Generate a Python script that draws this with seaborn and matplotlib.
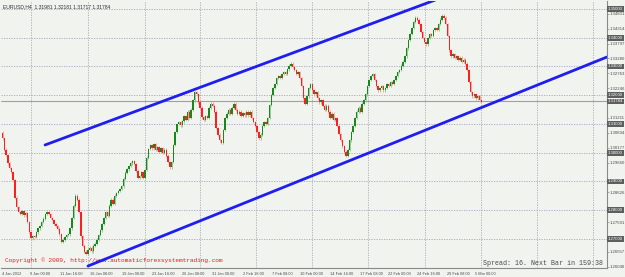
import matplotlib
matplotlib.use("Agg")
import matplotlib.pyplot as plt
import matplotlib.transforms as mtransforms
import numpy as np
import pandas as pd
import seaborn as sns

# ---------------- data ----------------
symbol_text = "EURUSD,H4  1.31981 1.32181 1.31717 1.31784"
first_bar = 2
first_open = 1.3070
closes = [
    1.3051, 1.3010, 1.2992, 1.2964, 1.2947, 1.2933, 1.2905, 1.2843, 1.2811, 1.2794,
    1.2787, 1.2797, 1.2783, 1.2790, 1.2759, 1.2724, 1.2703, 1.2710, 1.2707, 1.2724,
    1.2738, 1.2745, 1.2759, 1.2770, 1.2787, 1.2794, 1.2787, 1.2773, 1.2766, 1.2752,
    1.2745, 1.2735, 1.2717, 1.2690, 1.2697, 1.2707, 1.2714, 1.2717, 1.2738, 1.2773,
    1.2815, 1.2850, 1.2836, 1.2794, 1.2710, 1.2676, 1.2655, 1.2648, 1.2662, 1.2669,
    1.2658, 1.2676, 1.2683, 1.2697, 1.2714, 1.2731, 1.2752, 1.2773, 1.2794, 1.2780,
    1.2815, 1.2836, 1.2822, 1.2850, 1.2860, 1.2867, 1.2874, 1.2884, 1.2909, 1.2930,
    1.2943, 1.2954, 1.2964, 1.2971, 1.2961, 1.2937, 1.2912, 1.2919, 1.2933, 1.2912,
    1.2940, 1.2982, 1.3013, 1.3027, 1.3016, 1.3030, 1.3010, 1.3020, 1.3003, 1.3016,
    1.2999, 1.3010, 1.2989, 1.2968, 1.2950, 1.2968, 1.3027, 1.3072, 1.3100, 1.3107,
    1.3096, 1.3110, 1.3128, 1.3114, 1.3142, 1.3121, 1.3149, 1.3183, 1.3211, 1.3204,
    1.3176, 1.3156, 1.3124, 1.3114, 1.3128, 1.3121, 1.3156, 1.3170, 1.3163, 1.3142,
    1.3086, 1.3062, 1.3044, 1.3034, 1.3079, 1.3121, 1.3135, 1.3149, 1.3135, 1.3156,
    1.3170, 1.3149, 1.3135, 1.3142, 1.3128, 1.3138, 1.3131, 1.3142, 1.3131, 1.3142,
    1.3121, 1.3107, 1.3093, 1.3072, 1.3051, 1.3062, 1.3093, 1.3107, 1.3100, 1.3121,
    1.3166, 1.3201, 1.3225, 1.3239, 1.3260, 1.3267, 1.3260, 1.3274, 1.3281, 1.3274,
    1.3291, 1.3302, 1.3309, 1.3298, 1.3288, 1.3274, 1.3281, 1.3260, 1.3232, 1.3190,
    1.3170, 1.3197, 1.3225, 1.3239, 1.3218, 1.3204, 1.3211, 1.3190, 1.3176, 1.3183,
    1.3163, 1.3149, 1.3163, 1.3142, 1.3121, 1.3135, 1.3114, 1.3121, 1.3093, 1.3065,
    1.3044, 1.3023, 1.3003, 1.2989, 1.3010, 1.3044, 1.3072, 1.3093, 1.3121, 1.3142,
    1.3156, 1.3142, 1.3170, 1.3183, 1.3204, 1.3232, 1.3253, 1.3267, 1.3274, 1.3253,
    1.3232, 1.3218, 1.3225, 1.3232, 1.3218, 1.3225, 1.3239, 1.3232, 1.3246, 1.3239,
    1.3253, 1.3267, 1.3281, 1.3288, 1.3302, 1.3316, 1.3336, 1.3364, 1.3392, 1.3413,
    1.3434, 1.3455, 1.3469, 1.3462, 1.3448, 1.3420, 1.3399, 1.3385, 1.3378, 1.3399,
    1.3413, 1.3406, 1.3427, 1.3434, 1.3427, 1.3448, 1.3462, 1.3476, 1.3469, 1.3448,
    1.3406, 1.3357, 1.3336, 1.3343, 1.3330, 1.3336, 1.3323, 1.3330, 1.3316, 1.3323,
    1.3309, 1.3288, 1.3246, 1.3211, 1.3197, 1.3204, 1.3190, 1.3197, 1.3183, 1.3178,
]

x_labels = ["4 Jan 2012", "9 Jan 00:00", "11 Jan 16:00", "16 Jan 08:00", "19 Jan 00:00",
            "23 Jan 16:00", "26 Jan 08:00", "31 Jan 00:00", "2 Feb 16:00", "7 Feb 08:00",
            "10 Feb 00:00", "14 Feb 16:00", "17 Feb 08:00", "22 Feb 00:00", "24 Feb 16:00",
            "29 Feb 08:00", "5 Mar 00:00"]
x_label_bars = [1.7, 17.4, 34.3, 51.1, 69.1, 86.0, 102.8, 119.7, 137.1, 153.4,
                169.1, 186.0, 202.8, 218.6, 234.9, 251.7, 267.4]
grid_bars = [18, 50, 82, 113, 144.4, 175.9, 207.3, 239.3, 270.8, 302.3, 333.8]

price_ticks = [1.26040, 1.26557, 1.27591, 1.28626, 1.29660, 1.30177, 1.30694, 1.31211,
               1.32246, 1.32763, 1.33280, 1.33797, 1.34314, 1.34831]
level_lines = [1.35, 1.34, 1.33, 1.32, 1.31, 1.30, 1.29, 1.28, 1.27]
current_price = 1.31784

channel_name = ["upper", "upper", "lower", "lower"]
channel_bar = [25.9, 245.0, 50.0, 341.6]
channel_price = [1.3027, 1.3531, 1.2606, 1.3333]

copyright_text = "Copyright \u00a9 2009, http://www.automaticforexsystemtrading.com"
spread_text = "Spread: 16. Next Bar in 159:38"

# ---------------- style ----------------
sns.set_style("white")
plt.rcParams["font.family"] = ["DejaVu Sans"]

BG = "#f1f3ef"
fig = plt.figure(figsize=(6.25, 2.77), dpi=100)
fig.patch.set_facecolor(BG)
W, H = 625, 277
ax = fig.add_axes([1 / W, (H - 268) / H, 606 / W, 267 / H])
ax.set_facecolor(BG)

ax.set_xlim(1.146, 341.6)
ax.set_ylim(1.25991, 1.35278)

# grid / level lines
for gb in grid_bars:
    ax.axvline(gb, color="#a9a9b4", lw=0.6, ls=(0, (1.5, 1.5)), zorder=0)
for lv in level_lines:
    ax.axhline(lv, color="#a8a4bc", lw=0.6, ls=(0, (1.5, 1.5)), zorder=0)
ax.axhline(current_price, color="#a0a0a0", lw=0.8, zorder=1)

# candles
c = np.array(closes)
o = np.concatenate([[first_open], c[:-1]])
bars = np.arange(first_bar, first_bar + len(c))
up = c >= o
wick = 0.0005
hi = np.maximum(o, c) + wick
lo = np.minimum(o, c) - wick
ax.vlines(bars[up], lo[up], hi[up], color="#86c486", lw=0.6, zorder=2)
ax.vlines(bars[~up], lo[~up], hi[~up], color="#f39a9a", lw=0.6, zorder=2)
body = np.where(np.abs(c - o) < 0.00015, 0.00015, c - o)
ax.bar(bars[up], body[up], bottom=o[up], width=0.8, color="#1a871a", linewidth=0, zorder=3)
ax.bar(bars[~up], body[~up], bottom=o[~up], width=0.8, color="#ff1e1e", linewidth=0, zorder=3)

# channel lines
chan = pd.DataFrame({"line": channel_name, "bar": channel_bar, "price": channel_price})
sns.lineplot(data=chan, x="bar", y="price", hue="line", palette=["#1e1ef0", "#1e1ef0"],
             lw=2.0, legend=False, ax=ax, zorder=5, estimator=None, sort=False)
ax.set_xlabel("")
ax.set_ylabel("")

# axes spines
for s in ["top", "left"]:
    ax.spines[s].set_visible(False)
for s in ["right", "bottom"]:
    ax.spines[s].set_color("#8a8a8a")
    ax.spines[s].set_linewidth(0.8)

# right price axis
ax.yaxis.tick_right()
ax.set_yticks(price_ticks)
ax.set_yticklabels([f"{p:.5f}" for p in price_ticks], family="Liberation Sans")
ax.tick_params(axis="y", which="both", length=1.2, width=0.5, pad=0.4, labelsize=3.1,
               labelcolor="#4a4a4a", color="#8a8a8a")
trans = mtransforms.blended_transform_factory(ax.transAxes, ax.transData)
box_x = (608 - 1) / 606
for lv in level_lines + [current_price]:
    ax.text(box_x, lv, f"{lv:.5f}", transform=trans, fontsize=3.1, color="white",
            va="center", ha="left", clip_on=False, zorder=10, family="Liberation Sans",
            bbox=dict(boxstyle="square,pad=0.2", fc="#5e5e5e", ec="none"))

# bottom time axis
ax.set_xticks(x_label_bars)
ax.set_xticklabels(x_labels, ha="left", family="Liberation Sans")
ax.tick_params(axis="x", length=2, width=0.5, pad=1, labelsize=2.8,
               labelcolor="#4a4a4a", color="#8a8a8a")

# texts
ax.text(2 / 606, 1 - 3 / 267, symbol_text, transform=ax.transAxes, fontsize=3.6,
        color="#333333", va="top", ha="left", family="Liberation Sans")
ax.text(4 / 606, 1 - 262 / 267 + 0.01, copyright_text, transform=ax.transAxes,
        fontsize=4.4, color="#ee1c1c", va="center", ha="left", family="Liberation Mono")
ax.text(602 / 606, 1 - 265 / 267 + 0.01, spread_text, transform=ax.transAxes,
        fontsize=4.8, color="#4a4a4a", va="center", ha="right", family="Liberation Mono")

fig.savefig("out.png", dpi=100, facecolor=BG)
